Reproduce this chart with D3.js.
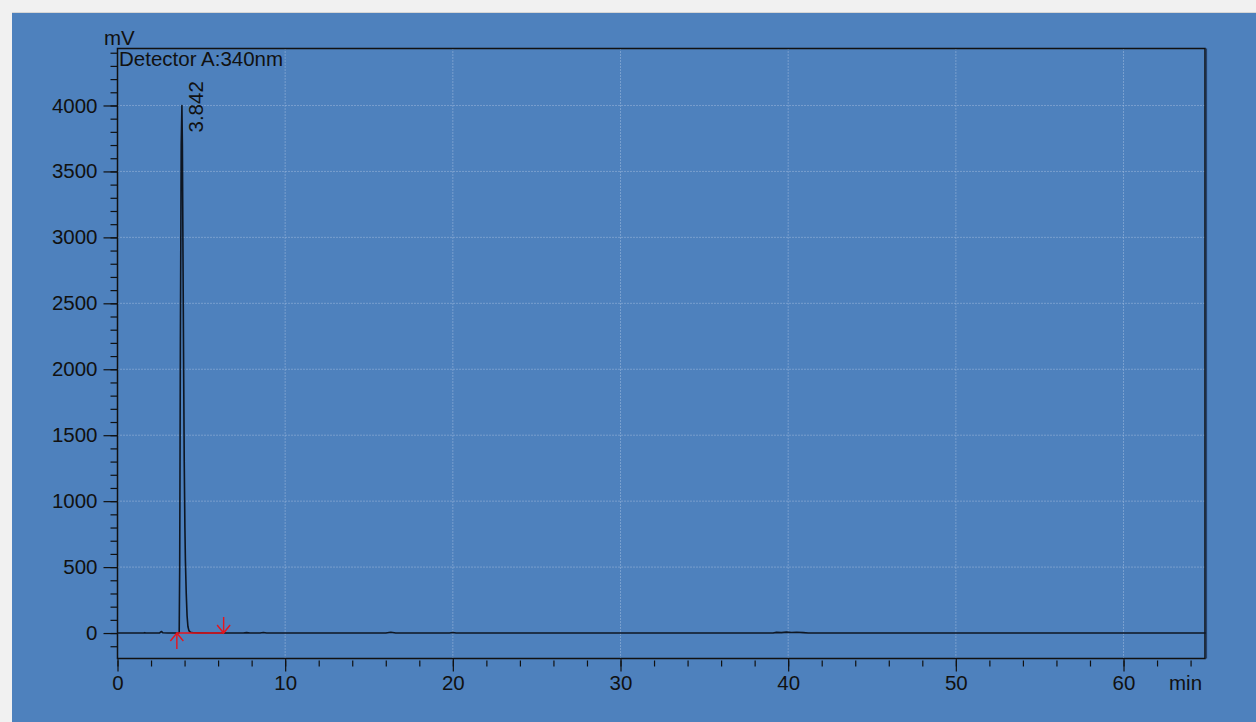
<!DOCTYPE html>
<html>
<head>
<meta charset="utf-8">
<script src="https://cdn.jsdelivr.net/npm/d3@7"></script>
<style>
  html, body { margin: 0; padding: 0; background: #f1f1f1; }
  svg { display: block; }
  text { font-family: "Liberation Sans", Arial, sans-serif; fill: #111; }
</style>
</head>
<body>
<svg id="chart"></svg>
<script>
// chromatogram trace (min, mV)
const times = [0, 1.2, 1.55, 1.62, 1.7, 2.5, 2.58, 2.63, 2.7, 3.0, 3.4, 3.6, 3.68, 3.71, 3.75, 3.8, 3.842,
  3.87, 3.9, 3.94, 3.98, 4.02, 4.05, 4.1, 4.15, 4.2, 4.26, 4.35, 4.5, 4.8, 5.5, 7.5, 7.7, 7.9, 8.5, 8.7, 8.9,
  10, 16.0, 16.3, 16.6, 19.8, 20.0, 20.2, 39.1, 39.3, 39.6, 39.9, 40.2, 40.5, 40.9, 41.2, 64.9];
const signal = [0, 0, 0, 3, 0, 0, 8, 12, 2, 0, 0, 0, 3, 500, 2200, 3700, 4000,
  3700, 3000, 2100, 1300, 800, 550, 300, 130, 50, 18, 6, 2, 1, 0, 0, 3, 0, 0, 4, 0,
  0, 0, 6, 0, 0, 4, 0, 0, 5, 3, 7, 4, 6, 3, 0, 0];

// detected peak + integration marks
const peakTimes = [3.842];
const peakHeights = [4000];
const peakLabels = ["3.842"];
const integStart = [3.54];
const integEnd = [6.33];

const yMajor = [0, 500, 1000, 1500, 2000, 2500, 3000, 3500, 4000];
const yMinor = d3.range(-100, 4401, 100);
const xMajor = [0, 10, 20, 30, 40, 50, 60];
const xMinor = d3.range(0, 65, 2);

const width = 1256;
const height = 722;
const margin = { top: 48.5, right: 51, bottom: 63.5, left: 117.5 };
const font = "Liberation Sans, Arial, sans-serif";
const fs = 20.5;

const svg = d3.select("#chart")
  .attr("width", width)
  .attr("height", height);

// blue panel
svg.append("rect")
  .attr("x", 12).attr("y", 13)
  .attr("width", width - 12).attr("height", height - 13)
  .attr("fill", "#4e81bd");
svg.append("line")
  .attr("x1", 12).attr("x2", width).attr("y1", 12.5).attr("y2", 12.5)
  .attr("stroke", "#d6d6d6");

const x = d3.scaleLinear()
  .domain([0, 64.86])
  .range([margin.left, width - margin.right]);

const y = d3.scaleLinear()
  .domain([-193, 4432])
  .range([height - margin.bottom, margin.top]);

const x0 = margin.left, x1 = width - margin.right;
const y0 = margin.top, y1 = height - margin.bottom;

// grid (dotted)
svg.append("g")
  .selectAll("line")
  .data(yMajor.filter(d => d > 0))
  .join("line")
  .attr("x1", x0).attr("x2", x1)
  .attr("y1", d => y(d)).attr("y2", d => y(d))
  .attr("stroke", "#a3bcde")
  .attr("stroke-dasharray", "1,2");

svg.append("g")
  .selectAll("line")
  .data(xMajor.filter(d => d > 0))
  .join("line")
  .attr("x1", d => x(d)).attr("x2", d => x(d))
  .attr("y1", y0).attr("y2", y1)
  .attr("stroke", "#a3bcde")
  .attr("stroke-dasharray", "1,2");

// y axis ticks
svg.append("g")
  .attr("transform", `translate(${x0},0)`)
  .call(d3.axisLeft(y).tickValues(yMinor).tickSize(7).tickFormat(""))
  .call(g => g.select(".domain").remove())
  .call(g => g.selectAll("line").attr("stroke", "#111").attr("stroke-width", 1.2));

svg.append("g")
  .attr("transform", `translate(${x0},0)`)
  .call(d3.axisLeft(y).tickValues(yMajor).tickSize(14).tickPadding(6).tickFormat(d3.format("d")))
  .call(g => g.select(".domain").remove())
  .call(g => g.selectAll("line").attr("stroke", "#111").attr("stroke-width", 1.2))
  .call(g => g.selectAll("text").attr("font-size", fs).attr("fill", "#111").attr("font-family", font));

// x axis ticks
svg.append("g")
  .attr("transform", `translate(0,${y1 + 2})`)
  .call(d3.axisBottom(x).tickValues(xMinor).tickSize(6).tickFormat(""))
  .call(g => g.select(".domain").remove())
  .call(g => g.selectAll("line").attr("stroke", "#111").attr("stroke-width", 1.2));

svg.append("g")
  .attr("transform", `translate(0,${y1})`)
  .call(d3.axisBottom(x).tickValues(xMajor).tickSize(13).tickPadding(4))
  .call(g => g.select(".domain").remove())
  .call(g => g.selectAll("line").attr("stroke", "#111").attr("stroke-width", 1.2))
  .call(g => g.selectAll("text").attr("font-size", fs).attr("fill", "#111").attr("font-family", font));

// frame
svg.append("rect")
  .attr("x", x0).attr("y", y0)
  .attr("width", x1 - x0).attr("height", y1 - y0)
  .attr("fill", "none")
  .attr("stroke", "#111")
  .attr("stroke-width", 1.5);
svg.append("line")
  .attr("x1", x1 + 1.5).attr("x2", x1 + 1.5)
  .attr("y1", y0).attr("y2", y1)
  .attr("stroke", "#24406a")
  .attr("stroke-width", 1.2);

// trace
const trace = times.map((t, i) => ({ t, v: signal[i] }));
const line = d3.line()
  .x(d => x(d.t))
  .y(d => y(d.v));

svg.append("path")
  .datum(trace)
  .attr("fill", "none")
  .attr("stroke", "#0e1622")
  .attr("stroke-width", 1.6)
  .attr("stroke-linejoin", "round")
  .attr("d", line);

// integration baseline + markers
const red = "#e8141c";
integStart.forEach((s, i) => {
  const e = integEnd[i];
  const yb = y(0);
  svg.append("line")
    .attr("x1", x(s)).attr("x2", x(e))
    .attr("y1", yb).attr("y2", yb)
    .attr("stroke", red).attr("stroke-width", 1.5);

  svg.append("path")
    .attr("fill", "none").attr("stroke", red).attr("stroke-width", 1.4)
    .attr("d", `M${x(s)},${yb + 16}V${yb}M${x(s) - 6.5},${yb + 8}L${x(s)},${yb}L${x(s) + 6.5},${yb + 8}`);

  svg.append("path")
    .attr("fill", "none").attr("stroke", red).attr("stroke-width", 1.4)
    .attr("d", `M${x(e)},${yb - 16}V${yb}M${x(e) - 6.5},${yb - 8}L${x(e)},${yb}L${x(e) + 6.5},${yb - 8}`);
});

// peak labels
svg.append("g")
  .selectAll("text")
  .data(peakTimes)
  .join("text")
  .attr("transform", (d, i) => `translate(${x(d) + 21},${y(peakHeights[i]) + 27}) rotate(-90)`)
  .attr("font-size", fs)
  .text((d, i) => peakLabels[i]);

// titles
svg.append("text")
  .attr("x", 119).attr("y", 66)
  .attr("font-size", fs)
  .text("Detector A:340nm");

svg.append("text")
  .attr("x", 104).attr("y", 45)
  .attr("font-size", fs)
  .text("mV");

svg.append("text")
  .attr("x", 1169).attr("y", 690)
  .attr("font-size", fs)
  .text("min");
</script>
</body>
</html>
